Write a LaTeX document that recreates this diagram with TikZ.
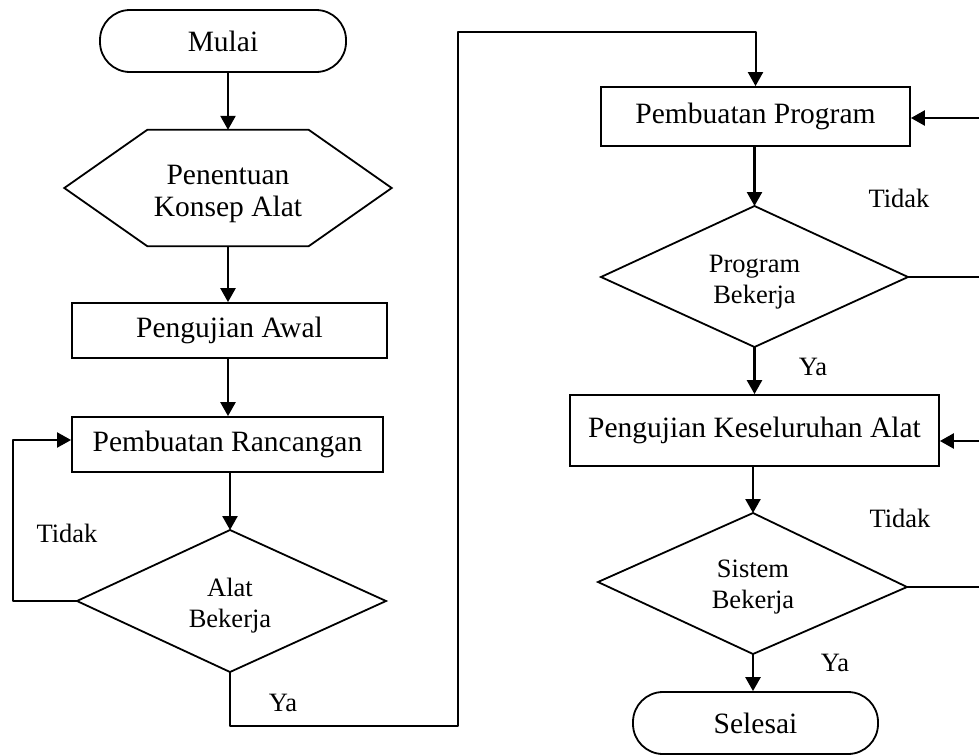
\documentclass[tikz,border=0pt]{standalone}
\usepackage{fontspec}
\setmainfont{Liberation Serif}
\usetikzlibrary{arrows.meta}
\begin{document}
\begin{tikzpicture}[x=1pt,y=-1pt,
  line join=miter,
  boxfont/.style={font=\fontsize{29.5}{33}\selectfont},
  terminal/.style={draw,line width=1.8pt,rounded corners=30pt,boxfont,inner sep=0pt},
  process/.style={draw,line width=1.8pt,boxfont,inner sep=0pt},
  decision/.style={font=\fontsize{26.5}{31}\selectfont,inner sep=0pt,align=center},
  lbl/.style={font=\fontsize{26.5}{30}\selectfont,inner sep=0pt},
  arr/.style={line width=2.5pt,-{Triangle[length=14pt,width=15pt]}},
  route/.style={line width=2pt,line join=round,-{Triangle[length=14pt,width=15pt]}},
  ln/.style={line width=1.8pt}
]
\useasboundingbox (0,0) rectangle (979,755);

% left column
\node[terminal,minimum width=246pt,minimum height=62pt] (mulai) at (223,41) {Mulai};
\node[boxfont,align=center,minimum width=327pt,minimum height=116pt,inner sep=0pt] (hex) at (228,188) {};
\node[boxfont,align=center,font=\fontsize{29.5}{32}\selectfont] (hextxt) at (228,194) {Penentuan\\Konsep Alat};
\draw[ln] (hex.west) -- ([xshift=83pt]hex.north west) -- ([xshift=-83pt]hex.north east)
  -- (hex.east) -- ([xshift=-83pt]hex.south east) -- ([xshift=83pt]hex.south west) -- cycle;
\node[process,minimum width=315pt,minimum height=55pt] (awal) at (229.5,330.5) {Pengujian Awal};
\node[process,minimum width=311pt,minimum height=55pt] (rancang) at (227.5,444.5) {Pembuatan Rancangan};
\node[decision] (alattxt) at (230,606) {Alat\\Bekerja};
\coordinate (alatN) at (230,530);
\coordinate (alatS) at (230,672);
\coordinate (alatW) at (77,601);
\coordinate (alatE) at (386,601);
\draw[ln] (alatN) -- (alatE) -- (alatS) -- (alatW) -- cycle;

% right column
\node[process,minimum width=309pt,minimum height=59pt] (prog) at (755.5,116.5) {Pembuatan Program};
\node[decision] (progtxt) at (754.5,282) {Program\\Bekerja};
\coordinate (progN) at (754.5,206);
\coordinate (progS) at (754.5,347);
\coordinate (progW) at (601,277);
\coordinate (progE) at (908,277);
\draw[ln] (progN) -- (progE) -- (progS) -- (progW) -- cycle;
\node[process,minimum width=369pt,minimum height=71pt] (uji) at (754.5,430.5) {Pengujian Keseluruhan Alat};
\node[decision] (sistxt) at (753,587) {Sistem\\Bekerja};
\coordinate (sisN) at (753,513);
\coordinate (sisS) at (753,654);
\coordinate (sisW) at (598,582);
\coordinate (sisE) at (907,587);
\draw[ln] (sisN) -- (sisE) -- (sisS) -- (sisW) -- cycle;
\node[terminal,minimum width=245pt,minimum height=62pt] (selesai) at (755.5,723) {Selesai};

% connectors, left column
\draw[arr] (mulai.south -| hex.north) -- (hex.north);
\draw[arr] (hex.south) -- (awal.north -| hex.south);
\draw[arr] (awal.south -| hex.south) -- (rancang.north -| hex.south);
\draw[arr] (rancang.south -| alatN) -- (alatN);
\coordinate (loopL) at (13,440);
\draw[route] (alatW) -| (loopL) -- (rancang.west |- loopL);
\coordinate (ya1) at (458,726);
\coordinate (ya2) at (458,32);
\draw[route] (alatS) |- (ya1) -- (ya2) -| (prog.north);

% connectors, right column
\draw[arr] (prog.south -| progN) -- (progN);
\draw[arr] (progS) -- (uji.north -| progS);
\draw[arr] (uji.south -| sisN) -- (sisN);
\draw[arr] (sisS) -- (selesai.north -| sisS);
\coordinate (fb1) at (979,118);
\coordinate (fb2) at (979,441);
\draw[arr] (fb1) -- (prog.east |- fb1);
\draw[arr] (fb2) -- (uji.east |- fb2);
\draw[ln] (progE) -- (progE -| fb1);
\draw[ln] (sisE) -- (sisE -| fb1);

% branch labels
\node[lbl] (t1) at (67,533) {Tidak};
\node[lbl] (y1) at (283,703) {Ya};
\node[lbl] (t2) at (899,198) {Tidak};
\node[lbl] (y2) at (813,367) {Ya};
\node[lbl] (t3) at (900,518) {Tidak};
\node[lbl] (y3) at (835,663) {Ya};
\end{tikzpicture}
\end{document}
